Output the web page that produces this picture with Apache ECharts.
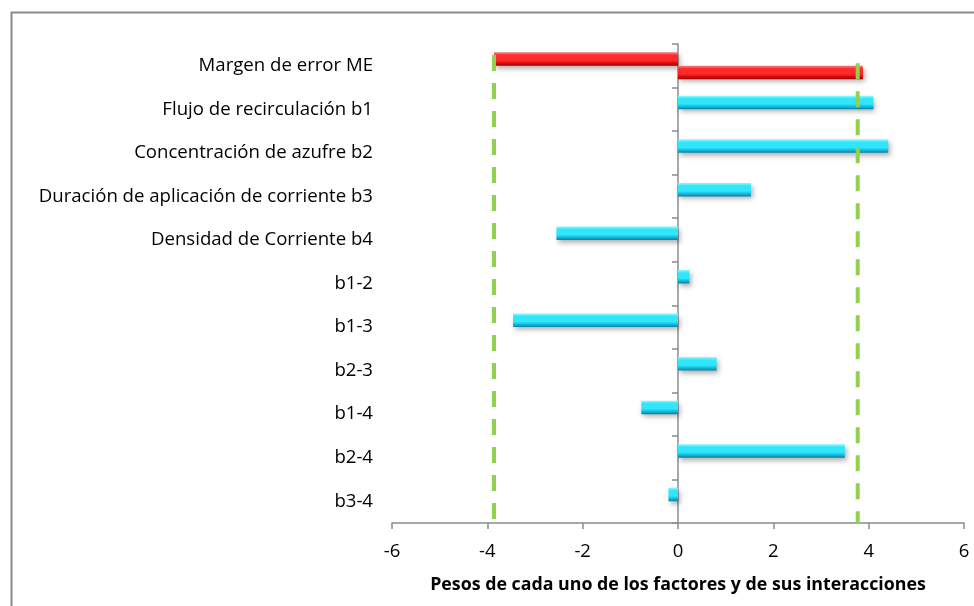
<!DOCTYPE html>
<html>
<head>
<meta charset="utf-8">
<script src="https://cdn.jsdelivr.net/npm/echarts@6/dist/echarts.min.js"></script>
<style>
  html, body { margin: 0; padding: 0; background: #ffffff; }
  #chart { width: 974px; height: 606px; }
</style>
</head>
<body>
<div id="chart"></div>
<script>
// Factors and interactions, top to bottom
const categories = [
  'Margen de error ME',
  'Flujo de recirculación b1',
  'Concentración de azufre b2',
  'Duración de aplicación de corriente b3',
  'Densidad de Corriente b4',
  'b1-2',
  'b1-3',
  'b2-3',
  'b1-4',
  'b2-4',
  'b3-4'
];
// Weight of each factor (the first entry is the lower error margin)
const effectWeights = [-3.86, 4.10, 4.41, 1.53, -2.55, 0.24, -3.46, 0.81, -0.77, 3.50, -0.20];
// Upper error margin, only on the first row
const upperMargin = [3.88, null, null, null, null, null, null, null, null, null, null];
// Significance limits
const limitLow = -3.86;
const limitHigh = 3.77;
// Value axis ticks
const xTickValues = [-6, -4, -2, 0, 2, 4, 6];

const FONT = '"Open Sans", sans-serif';
const AXIS_GRAY = '#8c8c8c';

function bevel(light, mid, dark, deep) {
  return new echarts.graphic.LinearGradient(0, 0, 0, 1, [
    { offset: 0, color: light },
    { offset: 0.22, color: mid },
    { offset: 0.6, color: mid },
    { offset: 0.8, color: dark },
    { offset: 1, color: deep }
  ]);
}
const cyanFill = bevel('#8ffaff', '#2fe6fb', '#14b8dc', '#0b7fa3');
const redFill = bevel('#ff8080', '#ff2a2a', '#dd0a0a', '#9a0000');
const shadow = { shadowColor: 'rgba(0,0,0,0.30)', shadowBlur: 5, shadowOffsetX: 2, shadowOffsetY: 3 };

const chart = echarts.init(document.getElementById('chart'), null, { renderer: 'canvas' });

const limitSeries = (x, top) => ({
  type: 'line',
  xAxisIndex: 0,
  yAxisIndex: 2,
  data: [[x, top], [x, 0]],
  symbol: 'none',
  silent: true,
  z: 5,
  lineStyle: { color: '#92d050', width: 4, type: [16, 12] }
});

chart.setOption({
  animation: false,
  backgroundColor: '#ffffff',
  graphic: [{
    type: 'rect',
    left: 9, top: 10,
    shape: { width: 1000, height: 700 },
    style: { fill: 'none', stroke: '#8a8a8a', lineWidth: 2 },
    silent: true, z: -10
  }],
  grid: { left: 392, right: 10, top: 44, bottom: 83, containLabel: false },
  xAxis: {
    type: 'value',
    min: xTickValues[0],
    max: xTickValues[xTickValues.length - 1],
    interval: xTickValues[1] - xTickValues[0],
    splitLine: { show: false },
    axisLine: { show: true, onZero: false, lineStyle: { color: AXIS_GRAY, width: 1.5 } },
    axisTick: { show: true, length: 6, lineStyle: { color: AXIS_GRAY, width: 1.5 } },
    axisLabel: { color: '#000', fontFamily: FONT, fontSize: 18.5, margin: 19 },
    name: 'Pesos de cada uno de los factores y de sus interacciones',
    nameLocation: 'middle',
    nameGap: 53,
    nameTextStyle: { color: '#000', fontFamily: FONT, fontSize: 17.8, fontWeight: 'bold' }
  },
  yAxis: [{
    type: 'category',
    data: categories,
    inverse: true,
    axisLine: { show: true, onZero: true, lineStyle: { color: AXIS_GRAY, width: 1.5 } },
    axisTick: { show: true, length: 6, lineStyle: { color: AXIS_GRAY, width: 1.5 } },
    axisLabel: { show: false },
    splitLine: { show: false }
  }, {
    type: 'category',
    data: categories,
    inverse: true,
    position: 'left',
    axisLine: { show: false, onZero: false },
    axisTick: { show: false },
    axisLabel: { color: '#000', fontFamily: FONT, fontSize: 18.6, margin: 19 },
    splitLine: { show: false }
  }, {
    type: 'value',
    min: 0, max: 1,
    show: false
  }],
  series: [{
    type: 'bar',
    yAxisIndex: 0,
    barWidth: 13.5,
    barGap: '0%',
    data: effectWeights.map((v, i) => ({
      value: v,
      itemStyle: Object.assign({ color: i === 0 ? redFill : cyanFill }, shadow)
    })),
    z: 3
  }, {
    type: 'bar',
    yAxisIndex: 0,
    barWidth: 13.5,
    barGap: '0%',
    data: upperMargin.map(v => v === null ? '-' : { value: v, itemStyle: Object.assign({ color: redFill }, shadow) }),
    z: 3
  },
  limitSeries(limitLow, 0.977),
  limitSeries(limitHigh, 0.960)
  ]
});
</script>
</body>
</html>
